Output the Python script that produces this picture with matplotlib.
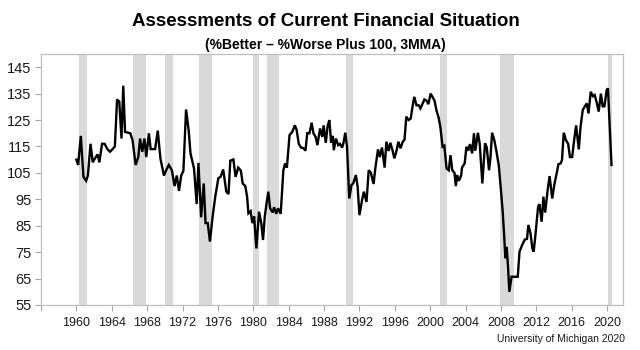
import matplotlib
matplotlib.use("Agg")
import matplotlib.pyplot as plt

plt.rcParams['font.family'] = ['Liberation Sans', 'DejaVu Sans']

years = [
    1960.0, 1960.2, 1960.5, 1960.8, 1961.1, 1961.3, 1961.6, 1961.85, 1962.1, 1962.4,
    1962.6, 1962.9, 1963.2, 1963.5, 1963.8, 1964.1, 1964.35, 1964.6, 1964.85, 1965.1,
    1965.3, 1965.5, 1966.1, 1966.35, 1966.7, 1967.0, 1967.2, 1967.45, 1967.7, 1967.9,
    1968.2, 1968.4, 1968.9, 1969.2, 1969.5, 1969.9, 1970.15, 1970.45, 1970.8, 1971.1,
    1971.35, 1971.6, 1971.85, 1972.1, 1972.4, 1972.7, 1972.9, 1973.3, 1973.6, 1973.8,
    1974.1, 1974.4, 1974.6, 1974.85, 1975.1, 1975.4, 1975.7, 1976.05, 1976.3, 1976.6,
    1976.95, 1977.2, 1977.4, 1977.75, 1978.0, 1978.3, 1978.6, 1978.8, 1979.1, 1979.3,
    1979.45, 1979.7, 1979.9, 1980.1, 1980.35, 1980.65, 1980.9, 1981.1, 1981.3, 1981.5,
    1981.7, 1981.9, 1982.2, 1982.35, 1982.6, 1982.8, 1983.1, 1983.4, 1983.6, 1983.8,
    1984.1, 1984.4, 1984.7, 1984.9, 1985.15, 1985.4, 1985.65, 1985.9, 1986.1, 1986.35,
    1986.6, 1986.8, 1987.05, 1987.25, 1987.55, 1987.8, 1987.95, 1988.2, 1988.4, 1988.6,
    1988.8, 1989.0, 1989.1, 1989.35, 1989.6, 1989.8, 1990.05, 1990.2, 1990.4, 1990.6,
    1990.85, 1991.1, 1991.3, 1991.6, 1991.8, 1992.0, 1992.3, 1992.5, 1992.8, 1993.05,
    1993.3, 1993.6, 1993.8, 1994.1, 1994.3, 1994.55, 1994.85, 1995.05, 1995.3, 1995.5,
    1995.75, 1995.95, 1996.2, 1996.4, 1996.65, 1996.9, 1997.1, 1997.3, 1997.55, 1997.8,
    1998.0, 1998.2, 1998.45, 1998.7, 1998.9, 1999.15, 1999.35, 1999.6, 1999.8, 2000.05,
    2000.3, 2000.5, 2000.7, 2000.95, 2001.15, 2001.4, 2001.6, 2001.85, 2002.1, 2002.3,
    2002.5, 2002.75, 2002.9, 2003.05, 2003.25, 2003.5, 2003.6, 2003.9, 2004.1, 2004.3,
    2004.5, 2004.75, 2004.95, 2005.1, 2005.4, 2005.6, 2005.9, 2006.2, 2006.4, 2006.65,
    2006.8, 2007.0, 2007.25, 2007.5, 2007.75, 2008.0, 2008.2, 2008.35, 2008.5, 2008.65,
    2008.8, 2008.95, 2009.2, 2009.6, 2009.9, 2010.1, 2010.4, 2010.7, 2010.95, 2011.1,
    2011.35, 2011.55, 2011.7, 2011.9, 2012.2, 2012.35, 2012.6, 2012.8, 2013.0, 2013.3,
    2013.5, 2013.8, 2014.05, 2014.3, 2014.5, 2014.75, 2014.9, 2015.1, 2015.35, 2015.6,
    2015.8, 2016.05, 2016.3, 2016.5, 2016.8, 2017.0, 2017.25, 2017.45, 2017.7, 2017.9,
    2018.15, 2018.4, 2018.6, 2018.85, 2019.05, 2019.3, 2019.5, 2019.7, 2019.95, 2020.1,
    2020.25, 2020.5,
]

values = [
    110, 108, 119, 103.5, 102, 104, 116, 109, 110.5, 112,
    109, 116, 116, 114, 113, 114, 115, 132.8, 132, 118,
    138, 120.5, 120, 117.4, 108, 111, 118, 113, 118, 111,
    120, 114, 114, 121, 110.5, 104, 106, 108, 106, 100,
    104, 98.2, 104, 105.8, 129, 121, 112.4, 106.7, 93.2, 108.8,
    88.2, 101, 86, 86, 79, 88.4, 96, 103, 103.5, 106.3,
    97.9, 97, 109.6, 110.1, 103.5, 107, 105.8, 101, 100, 96,
    89.7, 90.5, 86, 88.5, 76.4, 90.3, 86, 79.6, 88.4, 93.5,
    97.9, 91.6, 90, 92, 89.5, 91.6, 89.5, 106, 108.6, 107,
    119.3, 120.5, 123, 121.3, 115.9, 114.6, 114.4, 113.4, 120, 120,
    124, 120, 118.6, 115.5, 121.8, 118.6, 123, 116.4, 122.7, 125,
    116.4, 119, 113.6, 118, 115.5, 116, 114.6, 116.4, 120.2, 114.9,
    95.3, 100.4, 101, 104.2, 99.7, 89, 94.7, 97.9, 94, 106,
    105, 100.8, 106.8, 113.9, 111, 114.6, 107, 116.8, 113.3, 116.4,
    113.4, 110.5, 113.4, 116.8, 114.3, 116.8, 117.6, 126.3, 125, 125.6,
    130, 133.8, 130.6, 130.6, 129.4, 131.3, 132.8, 132.3, 131, 135,
    133.5, 132.3, 128.8, 126, 122.4, 114.9, 115.3, 106.7, 106, 111.7,
    106, 105, 100, 104.2, 102, 104, 107, 108.6, 114.9, 113.4,
    115.9, 112.4, 120, 113.4, 120.2, 116, 101, 116.2, 114.6, 106,
    110.1, 120.2, 117.4, 113, 108, 98.5, 90.3, 82, 72.7, 77,
    69.5, 60, 65.7, 65.7, 65.7, 75.2, 77.7, 79.8, 80, 85.3,
    82, 76.4, 75.2, 81.5, 92.2, 93.2, 86.5, 96, 90, 99,
    103.8, 95.3, 100.8, 104.8, 108.3, 108.6, 109.8, 120.2, 117.4, 116,
    111, 111, 118, 123, 113.9, 122.4, 128.8, 130, 131.3, 127.5,
    135.7, 134, 134.5, 131.3, 128.2, 135, 130.2, 130.2, 136.3, 137,
    126.2, 108,
]

recession_start = [1960.25, 1966.45, 1970.0, 1973.9, 1980.0, 1981.5, 1990.5, 2001.1, 2007.85, 2020.05]
recession_end = [1961.15, 1967.9, 1970.9, 1975.3, 1980.6, 1982.95, 1991.25, 2001.9, 2009.5, 2020.6]

x_ticks = list(range(1956, 2021, 4))
x_labels = ['' if t < 1960 else str(t) for t in x_ticks]
y_ticks = list(range(55, 146, 10))

title = 'Assessments of Current Financial Situation'
subtitle = '(%Better \u2013 %Worse Plus 100, 3MMA)'
source = 'University of Michigan 2020'

fig = plt.figure(figsize=(6.4, 3.5), dpi=100)
ax = fig.add_axes([41 / 640, 45 / 350, 582 / 640, 251 / 350])

for s, e in zip(recession_start, recession_end):
    ax.axvspan(s, e, color='#d9d9d9', lw=0, zorder=1)

ax.plot(years, values, color='black', lw=1.7, zorder=3, solid_joinstyle='miter')

ax.set_xlim(1956, 2021.8)
ax.set_ylim(55, 150)
ax.set_xticks(x_ticks)
ax.set_xticklabels(x_labels)
ax.set_yticks(y_ticks)
ax.tick_params(axis='y', labelsize=10.5, length=4, width=0.8, color='#a6a6a6',
               labelcolor='#1a1a1a', pad=3)
ax.tick_params(axis='x', labelsize=9, length=4, width=0.8, color='#a6a6a6',
               labelcolor='#1a1a1a', pad=5)
for sp in ax.spines.values():
    sp.set_color('#bfbfbf')
    sp.set_linewidth(0.9)

fig.text(0.509, 0.94, title, ha='center', va='center', fontsize=13.5, fontweight='bold')
fig.text(0.509, 0.872, subtitle, ha='center', va='center', fontsize=10, fontweight='bold')
fig.text(0.977, 0.03, source, ha='right', va='center', fontsize=7.5, color='#1a1a1a')

fig.savefig('out.png', dpi=100)
